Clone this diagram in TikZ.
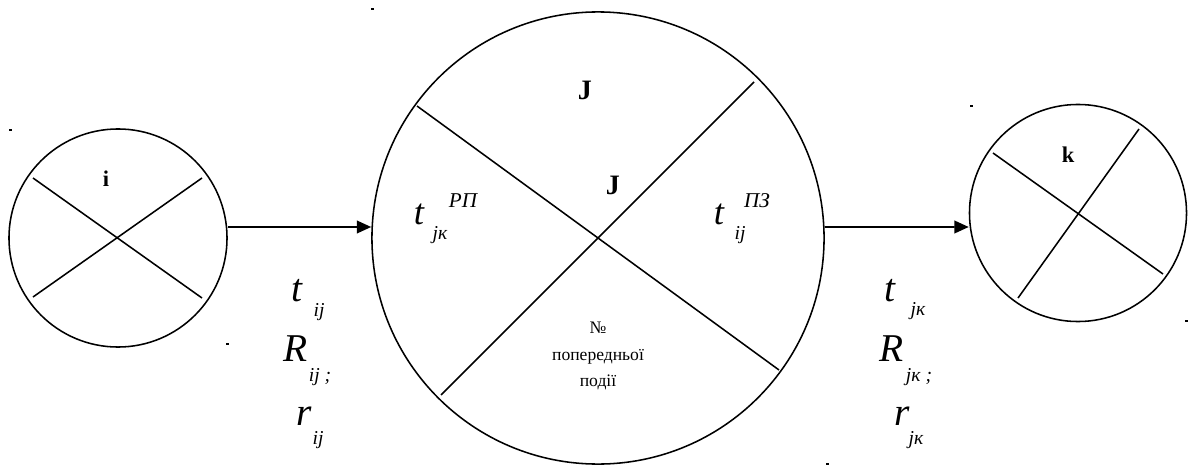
\documentclass[tikz,border=0pt]{standalone}
\usepackage{fontspec}
\setmainfont{Liberation Serif}
\usetikzlibrary{arrows.meta}

\begin{document}
\begin{tikzpicture}[x=0.025cm, y=-0.025cm, line width=1.1pt,
  ev/.style={draw, circle, inner sep=0pt},
  big/.style={font=\fontsize{28}{30}\selectfont\itshape, inner sep=0pt},
  sub/.style={font=\fontsize{14}{16}\selectfont\itshape, inner sep=0pt},
  sup/.style={font=\fontsize{15}{17}\selectfont\itshape, inner sep=0pt},
  lbl/.style={font=\bfseries, inner sep=0pt},
  arr/.style={-{Triangle[length=3.6mm, width=3.2mm]}}]
  \useasboundingbox (0,0) rectangle (1188,466);
  % the three events
  \node[ev, minimum size=5.45cm]  (i) at (118,238)  {};
  \node[ev, minimum size=11.3cm]  (J) at (598,238)  {};
  \node[ev, minimum size=5.425cm] (k) at (1078,213) {};
  % sector lines
  \draw ([shift={(-85,-60)}]i.center) -- ([shift={(84,60)}]i.center);
  \draw ([shift={(-85,59)}]i.center) -- ([shift={(84,-60)}]i.center);
  \draw ([shift={(-181,-132)}]J.center) -- ([shift={(181,132)}]J.center);
  \draw ([shift={(156,-156)}]J.center) -- ([shift={(-157,157)}]J.center);
  \draw ([shift={(-85,-60)}]k.center) -- ([shift={(85,61)}]k.center);
  \draw ([shift={(61,-84)}]k.center) -- ([shift={(-60,85)}]k.center);
  % event labels
  \node[lbl, font=\fontsize{16}{18}\selectfont\bfseries] (ni)  at (106,179)  {i};
  \node[lbl, font=\fontsize{16}{18}\selectfont\bfseries] (nk)  at (1068,155) {k};
  \node[lbl, font=\fontsize{20}{22}\selectfont\bfseries] (nJ1) at (585,90)   {J};
  \node[lbl, font=\fontsize{20}{22}\selectfont\bfseries] (nJ2) at (613,185)  {J};
  % early / late times inside J
  \node[big, font=\fontsize{26}{28}\selectfont\itshape] (trp) at (419,214) {t};
  \node[sup] (rp)  at (463,201) {РП};
  \node[sub] (jk0) at (440,235) {jк};
  \node[big, font=\fontsize{26}{28}\selectfont\itshape] (tpz) at (719,214) {t};
  \node[sup] (pz)  at (757,201) {ПЗ};
  \node[sub] (ij0) at (740,235) {ij};
  \node[font=\fontsize{12.5}{19}\selectfont, align=center] (prev) at (598,356)
    {№\\попередньої\\події};
  % work i-j
  \node[big] (tij) at (297,291) {t};
  \node[sub] (ij1) at (319,312) {ij};
  \node[big] (Rij) at (296,349) {R};
  \node[sub] (ij2) at (320,377) {ij ;};
  \node[big] (rij) at (304,416) {r};
  \node[sub] (ij3) at (318,440) {ij};
  % work j-k
  \node[big] (tjk) at (890,291) {t};
  \node[sub] (jk1) at (918,311) {jк};
  \node[big] (Rjk) at (892,349) {R};
  \node[sub] (jk2) at (919,377) {jк ;};
  \node[big] (rjk) at (902,416) {r};
  \node[sub] (jk3) at (916,440) {jк};
  % connectors
  \draw[arr] ([yshift=0.275cm]i.east) -- ([yshift=0.275cm]J.west);
  \draw[arr] ([yshift=0.275cm]J.east) -- ([yshift=-0.35cm]k.west);
  % stray dots
  \fill (9,129)    rectangle ++(3,2);
  \fill (371,8)    rectangle ++(3,2);
  \fill (970,105)  rectangle ++(3,2);
  \fill (1185,320) rectangle ++(3,2);
  \fill (226,343)  rectangle ++(3,2);
  \fill (826,463)  rectangle ++(3,2);
\end{tikzpicture}
\end{document}
